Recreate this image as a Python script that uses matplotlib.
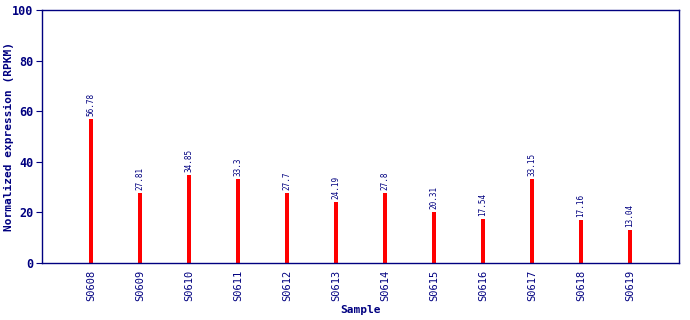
import matplotlib
matplotlib.use('Agg')
import matplotlib.pyplot as plt

# data
samples = ['S0608', 'S0609', 'S0610', 'S0611', 'S0612', 'S0613',
           'S0614', 'S0615', 'S0616', 'S0617', 'S0618', 'S0619']
rpkm = [56.78, 27.81, 34.85, 33.3, 27.7, 24.19,
        27.8, 20.31, 17.54, 33.15, 17.16, 13.04]
yticks = [0, 20, 40, 60, 80, 100]

navy = '#000080'
mono = 'DejaVu Sans Mono'

fig = plt.figure(figsize=(6.9, 3.2), dpi=100)
ax = fig.add_axes([42 / 690, 57 / 320, 637 / 690, 253 / 320])

x = list(range(len(samples)))
ax.bar(x, rpkm, width=0.09, color='#ff0000')

for xi, v in zip(x, rpkm):
    ax.text(xi, v + 1.2, f"{v:g}", rotation=90, ha='center', va='bottom',
            fontsize=5.5, family=mono, color=navy)

ax.set_xlim(-1.0, 12.0)
ax.set_ylim(0, 100)
ax.set_xticks(x)
ax.set_xticklabels(samples, rotation=90, fontsize=7.5, family=mono, color=navy)
ax.set_yticks(yticks)
ax.set_yticklabels([str(t) for t in yticks], fontsize=8.5, family=mono,
                   fontweight='bold', color=navy)
ax.tick_params(axis='x', length=0, pad=5)
ax.tick_params(axis='y', length=4, color=navy, pad=2)

for s in ax.spines.values():
    s.set_color(navy)
    s.set_linewidth(1)

ax.set_xlabel('Sample', fontsize=8, family=mono, fontweight='bold',
              color=navy)
ax.xaxis.set_label_coords(0.5, -42 / 253)
ax.set_ylabel('Normalized expression (RPKM)', fontsize=8, family=mono,
              fontweight='bold', color=navy, va='center')
ax.yaxis.set_label_coords(-33 / 637, 0.5)

fig.savefig('out.png', dpi=100)
